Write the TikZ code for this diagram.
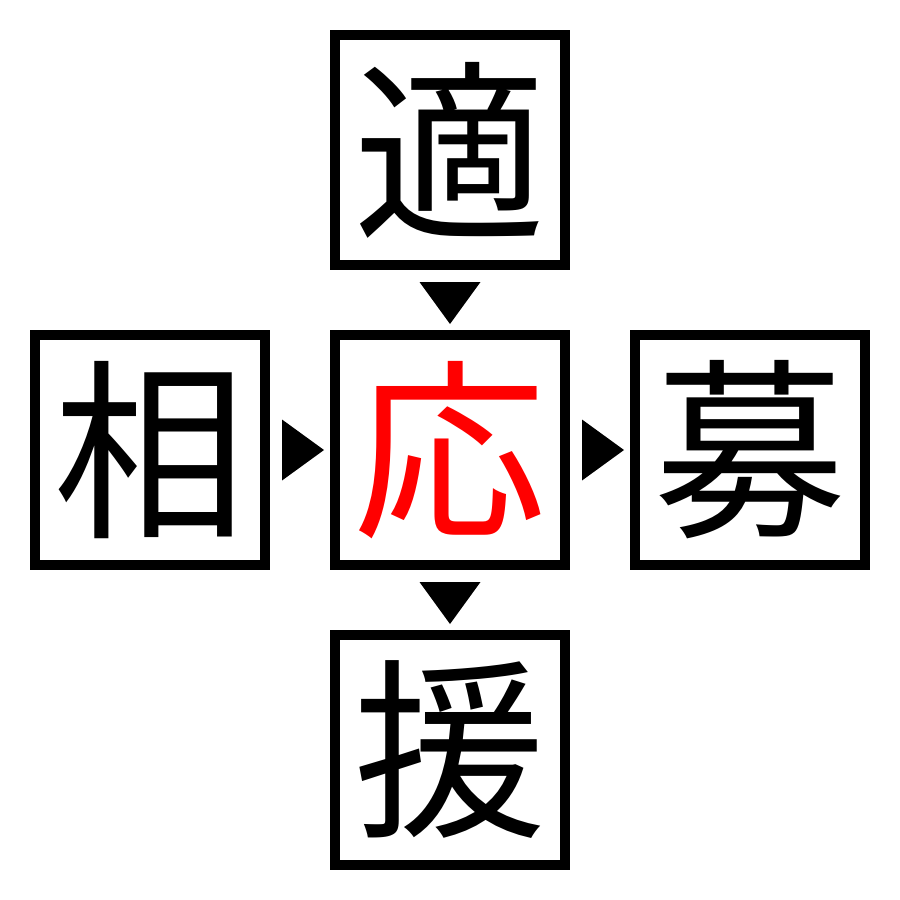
\documentclass[tikz,border=0pt]{standalone}
\usepackage{fontspec}
\usetikzlibrary{calc}
\newfontfamily\cjk{Noto Sans CJK JP}
\begin{document}
\begin{tikzpicture}[x=1pt,y=-1pt,
  kbox/.style={draw=black,line width=10pt,minimum width=230pt,minimum height=230pt,inner sep=0pt,fill=white,
    font=\cjk\fontsize{193}{193}\selectfont},
  tri/.style={fill=black,draw=none}]
\useasboundingbox (0,0) rectangle (900,900);
\node[kbox] (top) at (450,150) {適};
\node[kbox] (left) at (150,450) {相};
\node[kbox,text=red] (mid) at (450,450) {応};
\node[kbox] (right) at (750,450) {募};
\node[kbox] (bot) at (450,750) {援};
% triangular markers between boxes
\coordinate (m1) at ($(top.south)!0.5!(mid.north)$);
\coordinate (m2) at ($(mid.south)!0.5!(bot.north)$);
\coordinate (m3) at ($(left.east)!0.5!(mid.west)$);
\coordinate (m4) at ($(mid.east)!0.5!(right.west)$);
\fill[tri] ($(m1)+(-30.5,-18)$) -- ($(m1)+(30.5,-18)$) -- ($(m1)+(0,24)$) -- cycle;
\fill[tri] ($(m2)+(-30.5,-18)$) -- ($(m2)+(30.5,-18)$) -- ($(m2)+(0,24)$) -- cycle;
\fill[tri] ($(m3)+(-18,-30.5)$) -- ($(m3)+(-18,30.5)$) -- ($(m3)+(24,0)$) -- cycle;
\fill[tri] ($(m4)+(-18,-30.5)$) -- ($(m4)+(-18,30.5)$) -- ($(m4)+(24,0)$) -- cycle;
\end{tikzpicture}
\end{document}
